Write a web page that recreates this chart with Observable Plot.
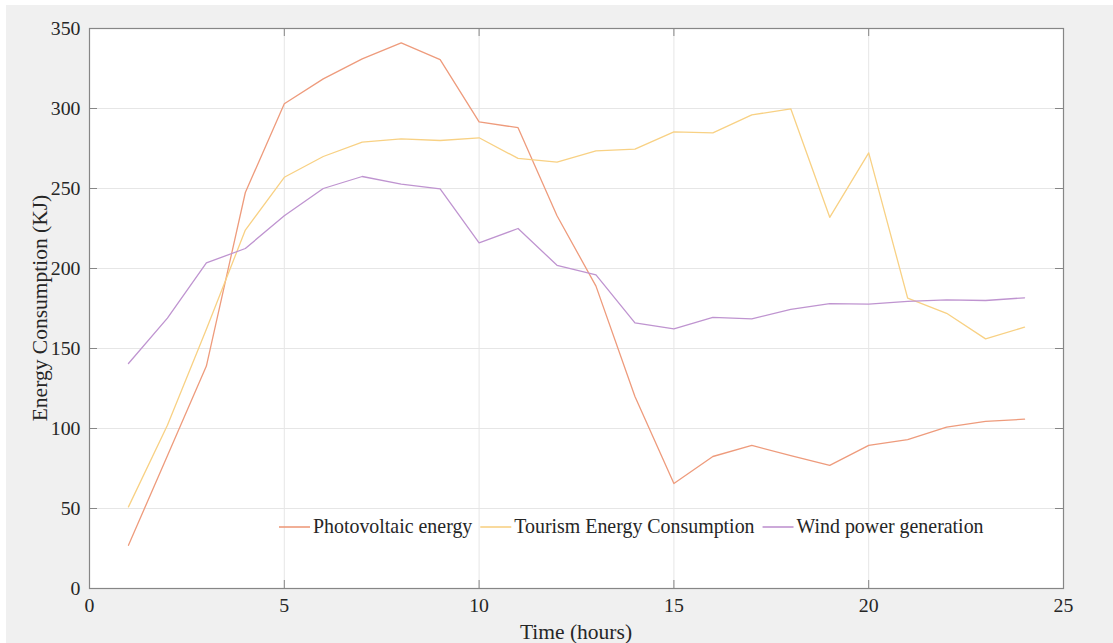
<!DOCTYPE html>
<html>
<head>
<meta charset="utf-8">
<script src="https://cdn.jsdelivr.net/npm/d3@7"></script>
<script src="https://cdn.jsdelivr.net/npm/@observablehq/plot@0.6"></script>
<style>
  html, body { margin: 0; padding: 0; background: #ffffff; }
  #chart { position: absolute; left: 6px; top: 5px; }
</style>
</head>
<body>
<div id="chart"></div>
<script>
const hours = [1,2,3,4,5,6,7,8,9,10,11,12,13,14,15,16,17,18,19,20,21,22,23,24];
const photovoltaic = [27,83,139,247.5,303,318.5,331,341,330.5,291.7,288,233,189,120,65.6,82.5,89.4,83,77,89.5,93,100.8,104.4,105.8];
const tourism = [51,102,162,224,257,270,279,281,280,281.7,268.8,266.5,273.5,274.6,285.4,284.8,296,299.8,232,272.3,181.5,172,156,163.3];
const wind = [140.6,169,203.5,212.5,233,250,257.5,252.7,249.8,216,225,202,196,166,162.3,169.4,168.5,174.4,178,177.7,179.4,180.4,180,181.7];
const seriesNames = ["Photovoltaic energy", "Tourism Energy Consumption", "Wind power generation"];
const seriesColors = ["#ee9b7c", "#f8d184", "#bf94d0"];
const xTicks = [0,5,10,15,20,25];
const yTicks = [0,50,100,150,200,250,300,350];
const xLabel = "Time (hours)";
const yLabel = "Energy Consumption (KJ)";

const seriesValues = [photovoltaic, tourism, wind];
const rows = [];
seriesNames.forEach((name, i) => {
  hours.forEach((h, j) => rows.push({series: name, hour: h, value: seriesValues[i][j]}));
});

const W = 1107, H = 638;
const mL = 83, mR = 50, mT = 23, mB = 55;
const fw = W - mL - mR, fh = H - mT - mB;
const tickLen = 8;
const axisColor = "#868686";
const innerX = xTicks.filter(d => d > 0 && d < 25);
const innerY = yTicks.filter(d => d > 0 && d < 350);

const chart = Plot.plot({
  width: W,
  height: H,
  marginLeft: mL,
  marginRight: mR,
  marginTop: mT,
  marginBottom: mB,
  style: {fontFamily: "'Liberation Serif', 'Times New Roman', serif", fontSize: "19.8px", color: "#262626", background: "#f0f0f0"},
  x: {domain: [0, 25], ticks: xTicks, tickSize: 0, tickPadding: 9, label: null},
  y: {domain: [0, 350], ticks: yTicks, tickSize: 0, tickPadding: 9, label: null},
  color: {domain: seriesNames, range: seriesColors},
  marks: [
    Plot.frame({fill: "white"}),
    Plot.ruleX(innerX, {x: d => d, stroke: "#e6e6e6", strokeWidth: 1}),
    Plot.ruleY(innerY, {y: d => d, stroke: "#e6e6e6", strokeWidth: 1}),
    Plot.line(rows, {x: "hour", y: "value", z: "series", stroke: "series", strokeWidth: 1.3}),
    Plot.tickX(innerX, {x: d => d, insetTop: fh - tickLen, stroke: axisColor}),
    Plot.tickX(innerX, {x: d => d, insetBottom: fh - tickLen, stroke: axisColor}),
    Plot.tickY(innerY, {y: d => d, insetRight: fw - tickLen, stroke: axisColor}),
    Plot.tickY(innerY, {y: d => d, insetLeft: fw - tickLen, stroke: axisColor}),
    Plot.frame({stroke: axisColor, strokeWidth: 1.2})
  ]
});

document.getElementById("chart").appendChild(chart);

const svg = d3.select(chart);
// axis titles
svg.append("text")
  .attr("x", mL + fw / 2).attr("y", H - 11)
  .attr("text-anchor", "middle").attr("dy", "0.32em")
  .attr("font-size", "21.5px").attr("fill", "#262626")
  .text(xLabel);
svg.append("text")
  .attr("transform", `translate(34, ${mT + fh / 2}) rotate(-90)`)
  .attr("text-anchor", "middle").attr("dy", "0.32em")
  .attr("font-size", "21.5px").attr("fill", "#262626")
  .text(yLabel);

// legend
const lg = svg.append("g").attr("font-size", "19.9px").attr("fill", "#262626").attr("text-anchor", "start");
let lx = 273;
const ly = 522;
seriesNames.forEach((name, i) => {
  lg.append("line").attr("x1", lx).attr("x2", lx + 31).attr("y1", ly).attr("y2", ly)
    .attr("stroke", seriesColors[i]).attr("stroke-width", 1.6);
  const t = lg.append("text").attr("x", lx + 34).attr("y", ly).attr("dy", "0.32em")
    .attr("text-anchor", "start").text(name);
  const len = t.node().getComputedTextLength();
  lx = lx + 34 + len + 8;
});
</script>
</body>
</html>
